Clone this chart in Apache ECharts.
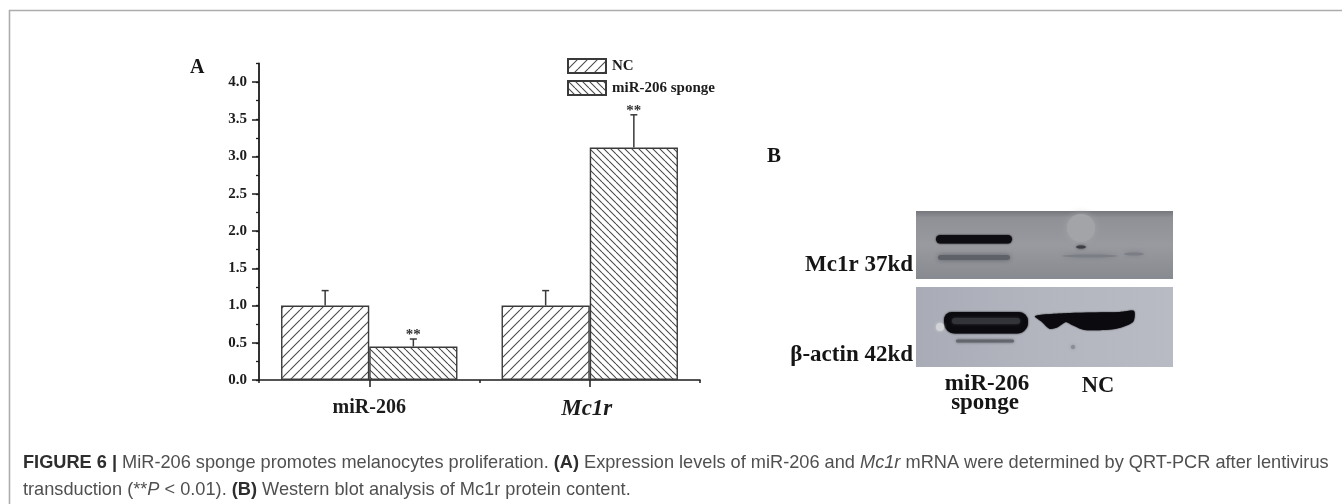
<!DOCTYPE html>
<html><head><meta charset="utf-8">
<style>html,body{margin:0;padding:0;background:#fff}#c{width:1342px;height:504px}</style>
<script src="https://cdn.jsdelivr.net/npm/echarts@6/dist/echarts.min.js"></script>
</head><body><div id="c"></div>
<script>
const categories = ['miR-206', 'Mc1r'];
const yTicks = [0, 0.5, 1, 1.5, 2, 2.5, 3, 3.5, 4];
const ncValues = [1.0, 1.0];
const spongeValues = [0.45, 3.12];
const ncErrors = [0.2, 0.2];
const spongeErrors = [0.1, 0.44];
const spongeStars = ['**', '**'];

const SERIF = '"Liberation Serif","Times New Roman",serif';
const SANS = '"Liberation Sans",Arial,sans-serif';
const INK = '#1c1c1c', STROKE = '#3a3a3a';

function hatch(p, dir) {
  const c = document.createElement('canvas');
  c.width = c.height = p;
  const g = c.getContext('2d');
  g.fillStyle = '#fff'; g.fillRect(0, 0, p, p);
  g.strokeStyle = '#4a4a4a'; g.lineWidth = 1.05;
  for (let k = -1; k <= 1; k++) {
    g.beginPath();
    if (dir > 0) { g.moveTo(k * p, p); g.lineTo(k * p + p, 0); }
    else { g.moveTo(k * p, 0); g.lineTo(k * p + p, p); }
    g.stroke();
  }
  return c;
}

function errorSeries(name, vals, errs, stars, side) {
  return {
    type: 'custom', name, xAxisIndex: 0, yAxisIndex: 0, silent: true, z: 4,
    data: vals.map((v, i) => [i, v, v + errs[i], stars ? stars[i] : '']),
    encode: { x: 0, y: 2 },
    renderItem(params, api) {
      const band = api.size([1, 0])[0];
      const dx = side * band * 0.2;
      const base = api.coord([api.value(0), api.value(1)]);
      const top = api.coord([api.value(0), api.value(2)]);
      const x = base[0] + dx;
      const st = { stroke: STROKE, lineWidth: 1.5, fill: null };
      const kids = [
        { type: 'line', shape: { x1: x, y1: base[1], x2: x, y2: top[1] }, style: st },
        { type: 'line', shape: { x1: x - 3.5, y1: top[1], x2: x + 3.5, y2: top[1] }, style: st }
      ];
      const s = stars ? stars[params.dataIndex] : '';
      if (s) kids.push({ type: 'text', style: { text: s, x, y: top[1] + 4, align: 'center', verticalAlign: 'bottom',
        font: 'bold 15px ' + SERIF, fill: '#333' } });
      return { type: 'group', children: kids };
    }
  };
}

function label(text, x, y, size, align) {
  return { type: 'text', z: 10, style: { text, x, y, align: align || 'left', verticalAlign: 'middle',
    font: 'bold ' + size + 'px ' + SERIF, fill: '#151515' } };
}
function blob(shape, type, fill, blur) {
  return { type, shape, z: 6, style: { fill, shadowBlur: blur, shadowColor: fill } };
}

const CAP = 18.2;
const capStyle = {
  b: { font: 'bold ' + CAP + 'px ' + SANS, fill: '#2e2e2e' },
  n: { font: CAP + 'px ' + SANS, fill: '#505050' },
  i: { font: 'italic ' + CAP + 'px ' + SANS, fill: '#505050' }
};

const blot = [
  { type: 'rect', z: 5, shape: { x: 916, y: 211, width: 257, height: 68 }, style: {
    fill: { type: 'linear', x: 0, y: 0, x2: 0, y2: 1, colorStops: [
      { offset: 0, color: '#75777c' }, { offset: 0.1, color: '#8f9196' }, { offset: 0.5, color: '#989a9f' }, { offset: 1, color: '#888a91' }] } } },
  { type: 'rect', z: 5, shape: { x: 916, y: 287, width: 257, height: 80 }, style: {
    fill: { type: 'linear', x: 0, y: 0, x2: 1, y2: 0, colorStops: [
      { offset: 0, color: '#a9acb6' }, { offset: 0.5, color: '#b3b6bf' }, { offset: 1, color: '#b8bbc4' }] } } },
  blob({ cx: 1081, cy: 228, r: 14 }, 'circle', '#a3a4a8', 6),
  blob({ cx: 1081, cy: 247, rx: 5, ry: 1.5 }, 'ellipse', '#3e3f46', 3),
  blob({ x: 938, y: 255, width: 72, height: 5, r: 2.5 }, 'rect', '#5f6168', 5),
  blob({ cx: 1090, cy: 256, rx: 28, ry: 1.5 }, 'ellipse', '#7c7e85', 5),
  blob({ cx: 1134, cy: 254, rx: 10, ry: 1.5 }, 'ellipse', '#7c7e85', 5),
  blob({ x: 936, y: 235, width: 76, height: 8.5, r: 4.2 }, 'rect', '#0e0e12', 2),
  blob({ x: 944, y: 312, width: 84, height: 21.5, r: [8, 9, 11, 11] }, 'rect', '#0b0b0f', 2),
  blob({ x: 952, y: 318, width: 68, height: 6, r: 3 }, 'rect', '#33343a', 3),
  blob({ points: [[1035, 316], [1070, 313], [1120, 312], [1134, 311], [1133, 322], [1115, 329], [1085, 330], [1072, 325], [1066, 322], [1058, 327], [1050, 329], [1042, 322]], smooth: 0.25 }, 'polygon', '#0b0b0f', 1.5),
  blob({ x: 956, y: 339.5, width: 58, height: 3, r: 1.5 }, 'rect', '#64666e', 3),
  blob({ cx: 940, cy: 327, r: 4 }, 'circle', '#d2d3d7', 3),
  blob({ cx: 1073, cy: 347, r: 2 }, 'circle', '#8a8c94', 3)
];

const chart = echarts.init(document.getElementById('c'), null, { renderer: 'canvas' });
chart.setOption({
  animation: false,
  backgroundColor: '#fff',
  grid: { left: 259, right: 642, top: 63.4, bottom: 124, containLabel: false },
  legend: {
    left: 567, top: 58, padding: 0, orient: 'vertical', itemWidth: 38, itemHeight: 14, itemGap: 6,
    icon: 'rect', data: ['NC', 'miR-206 sponge'], selectedMode: false,
    textStyle: { fontFamily: SERIF, fontWeight: 'bold', fontSize: 15, color: INK, padding: [0, 0, 0, 1] }
  },
  xAxis: [
    { type: 'category', data: categories, boundaryGap: true,
      axisLine: { lineStyle: { color: INK, width: 1.6 } },
      axisTick: { show: true, alignWithLabel: false, length: 3, lineStyle: { color: INK, width: 1.5 } },
      axisLabel: { margin: 18, interval: 0, formatter: v => v === 'Mc1r' ? '{i|' + v + '}' : '{b|' + v + '}',
        rich: { b: { fontFamily: SERIF, fontWeight: 'bold', fontSize: 20, color: INK },
                i: { fontFamily: SERIF, fontWeight: 'bold', fontStyle: 'italic', fontSize: 23, color: INK, padding: [0, 6, 3, 0] } } } },
    { type: 'category', data: categories, boundaryGap: true, position: 'bottom',
      axisLine: { show: false },
      axisTick: { show: true, alignWithLabel: true, length: 7, lineStyle: { color: INK, width: 1.5 } },
      axisLabel: { show: false } }
  ],
  yAxis: [
    { type: 'value', min: 0, max: 4.25, interval: 0.5, splitLine: { show: false },
      axisLine: { show: true, lineStyle: { color: INK, width: 1.8 } },
      axisTick: { show: true, length: 7, customValues: yTicks, lineStyle: { color: INK, width: 1.5 } },
      axisLabel: { margin: 12, customValues: yTicks, formatter: v => v.toFixed(1),
        fontFamily: SERIF, fontWeight: 'bold', fontSize: 15, color: INK } },
    { type: 'value', min: 0, max: 4.25, interval: 0.25, position: 'left', splitLine: { show: false },
      axisLine: { show: false },
      axisTick: { show: true, length: 3, lineStyle: { color: INK, width: 1.3 } },
      axisLabel: { show: false } }
  ],
  series: [
    { name: 'NC', type: 'bar', data: ncValues, barGap: 0, barCategoryGap: '20%', z: 3,
      itemStyle: { color: { image: hatch(10, 1), repeat: 'repeat' }, borderColor: STROKE, borderWidth: 1.4 } },
    { name: 'miR-206 sponge', type: 'bar', data: spongeValues, z: 3,
      itemStyle: { color: { image: hatch(7, -1), repeat: 'repeat' }, borderColor: STROKE, borderWidth: 1.4 } },
    errorSeries('NC error', ncValues, ncErrors, null, -1),
    errorSeries('sponge error', spongeValues, spongeErrors, spongeStars, 1)
  ],
  graphic: [
    { type: 'polyline', z: 1, shape: { points: [[1342, 10.5], [9.5, 10.5], [9.5, 504]] }, style: { stroke: '#adadad', lineWidth: 1.6, fill: null } },
    label('A', 190, 68, 20),
    label('B', 767, 157, 21),
    label('Mc1r 37kd', 913, 265, 23, 'right'),
    label('β-actin 42kd', 913, 355, 23, 'right'),
    label('miR-206', 987, 384, 23, 'center'),
    label('sponge', 985, 403, 23, 'center'),
    label('NC', 1098, 386, 22.5, 'center'),
    ...blot,
    { type: 'text', z: 10, style: { x: 23, y: 463, verticalAlign: 'middle', rich: capStyle,
      text: '{b|FIGURE 6 | }{n|MiR-206 sponge promotes melanocytes proliferation. }{b|(A) }{n|Expression levels of miR-206 and }{i|Mc1r}{n| mRNA were determined by QRT-PCR after lentivirus}' } },
    { type: 'text', z: 10, style: { x: 23, y: 490, verticalAlign: 'middle', rich: capStyle,
      text: '{n|transduction (**}{i|P}{n| < 0.01). }{b|(B) }{n|Western blot analysis of Mc1r protein content.}' } }
  ]
});
</script></body></html>
